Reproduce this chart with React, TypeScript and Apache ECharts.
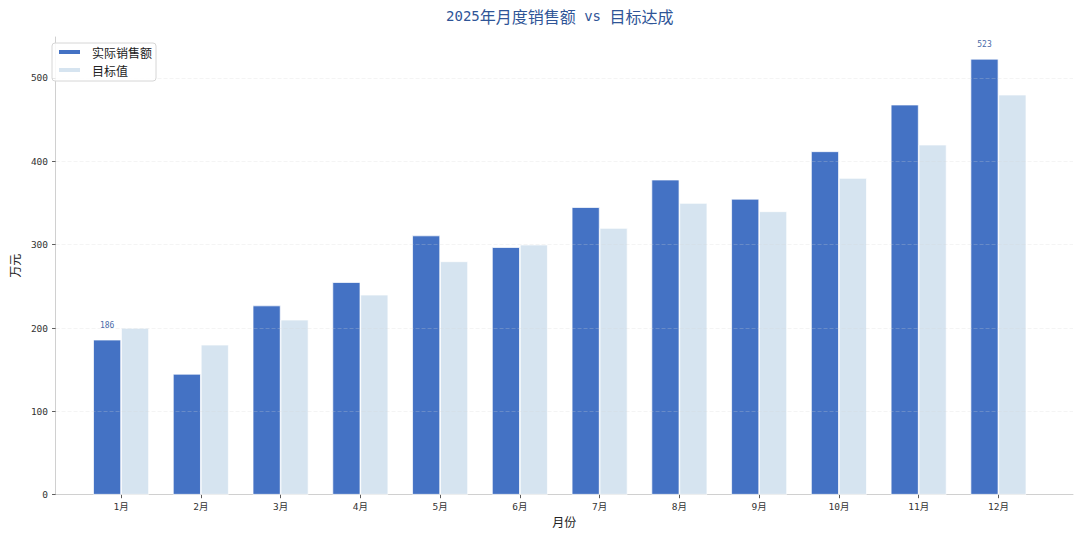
import React, { useEffect, useRef } from "react";
import * as echarts from "echarts";

const months = ["1月", "2月", "3月", "4月", "5月", "6月", "7月", "8月", "9月", "10月", "11月", "12月"];
const actualSales = [186, 145, 227, 255, 311, 297, 345, 378, 355, 412, 468, 523];
const targetSales = [200, 180, 210, 240, 280, 300, 320, 350, 340, 380, 420, 480];
const yTicks = [0, 100, 200, 300, 400, 500];
const labeledIndices = [0, 11];

const FONT = "'DejaVu Sans', 'Noto Sans CJK SC', sans-serif";
const MONO = "'DejaVu Sans Mono', 'Noto Sans CJK SC', monospace";
const CJK = "'Noto Sans CJK SC', sans-serif";
const C_ACTUAL = "#4472C4";
const C_TARGET = "#D6E4F0";

export default function App() {
  const ref = useRef<HTMLDivElement>(null);
  useEffect(() => {
    if (!ref.current) return;
    const chart = echarts.init(ref.current, null, { renderer: "svg" });
    const yMax = Math.max(...actualSales, ...targetSales) * 1.05;
    const W = 1080;
    const plotLeft = 46.5;
    const plotRight = 1073;
    const spacing = (plotRight - plotLeft) / (months.length - 1 + 2 * 0.935);
    const firstCenter = plotLeft + 0.935 * spacing;
    const catLeft = firstCenter - spacing / 2;
    const catRight = W - (catLeft + spacing * months.length);
    const barW = spacing * 0.35;

    const option: any = {
      animation: false,
      backgroundColor: "#ffffff",
      textStyle: { fontFamily: FONT },
      title: {
        text: "{d|2025}{c|年月度销售额}{d| vs }{c|目标达成}",
        left: (plotLeft + plotRight) / 2,
        textAlign: "center",
        top: 7,
        padding: 0,
        textStyle: {
          fontSize: 16,
          fontWeight: "normal",
          color: "#2F5597",
          rich: {
            d: { fontFamily: MONO, fontSize: 14, fontWeight: "normal", color: "#2F5597", lineHeight: 18 },
            c: { fontFamily: CJK, fontSize: 16, fontWeight: "normal", color: "#2F5597", lineHeight: 18 },
          },
        },
      },
      legend: {
        orient: "vertical",
        left: 52,
        top: 43,
        padding: [2, 4, 4, 5],
        itemGap: 4,
        itemWidth: 23,
        itemHeight: 6,
        icon: "rect",
        borderColor: "#d6d6d6",
        borderWidth: 1,
        borderRadius: 3,
        backgroundColor: "rgba(255,255,255,0.85)",
        textStyle: { fontFamily: CJK, fontSize: 12, color: "#222", lineHeight: 14, padding: [0, 0, 0, 6] },
        data: ["实际销售额", "目标值"],
      },
      grid: [
        { left: plotLeft, right: W - plotRight, top: 37, bottom: 41.3 },
        { left: catLeft, right: catRight, top: 37, bottom: 41.3 },
      ],
      xAxis: [
        {
          type: "value",
          gridIndex: 0,
          min: 0,
          max: 1,
          axisLine: { show: true, lineStyle: { color: "#d0d0d0", width: 1 } },
          axisTick: { show: false },
          axisLabel: { show: false },
          splitLine: { show: false },
          name: "月份",
          nameLocation: "middle",
          nameGap: 21,
          nameTextStyle: { fontFamily: CJK, fontSize: 12, color: "#222" },
        },
        {
          type: "category",
          gridIndex: 1,
          data: months,
          boundaryGap: true,
          axisLine: { show: false },
          axisTick: { show: true, alignWithLabel: true, length: 3.5, lineStyle: { color: "#333", width: 0.8 } },
          axisLabel: { fontFamily: MONO, fontSize: 9.5, color: "#333", margin: 7 },
          splitLine: { show: false },
        },
      ],
      yAxis: [
        {
          type: "value",
          gridIndex: 0,
          min: 0,
          max: yMax,
          interval: 100,
          z: 3,
          axisLine: { show: true, lineStyle: { color: "#d0d0d0", width: 1 } },
          axisTick: { show: true, length: 3.5, lineStyle: { color: "#333", width: 0.8 }, customValues: yTicks },
          axisLabel: {
            fontFamily: MONO,
            fontSize: 9.5,
            color: "#333",
            margin: 7.5,
            customValues: yTicks,
          },
          splitLine: {
            show: true,
            showMinLine: false,
            lineStyle: { color: "rgba(210,210,210,0.32)", type: [4, 2], width: 0.8 },
          },
          name: "万元",
          nameLocation: "middle",
          nameGap: 28,
          nameTextStyle: { fontFamily: CJK, fontSize: 12, color: "#222" },
        },
        {
          type: "value",
          gridIndex: 1,
          min: 0,
          max: yMax,
          show: false,
          splitLine: { show: false },
        },
      ],
      series: [
        {
          name: "实际销售额",
          type: "bar",
          xAxisIndex: 1,
          yAxisIndex: 1,
          barWidth: barW,
          barGap: "0%",
          itemStyle: { color: C_ACTUAL, borderColor: "#ffffff", borderWidth: 0.7 },
          label: {
            show: false,
            position: "top",
            distance: 10,
            fontFamily: MONO,
            fontSize: 8,
            color: "#4a6aa8",
          },
          data: actualSales.map((v, i) => ({
            value: v,
            label: { show: labeledIndices.includes(i) },
          })),
        },
        {
          name: "目标值",
          type: "bar",
          xAxisIndex: 1,
          yAxisIndex: 1,
          barWidth: barW,
          barGap: "0%",
          itemStyle: { color: C_TARGET, borderColor: "#ffffff", borderWidth: 0.7 },
          data: targetSales,
        },
      ],
    };
    chart.setOption(option);
    return () => chart.dispose();
  }, []);
  return <div ref={ref} style={{ position: "fixed", left: 0, top: 0, width: 1080, height: 536 }} />;
}
